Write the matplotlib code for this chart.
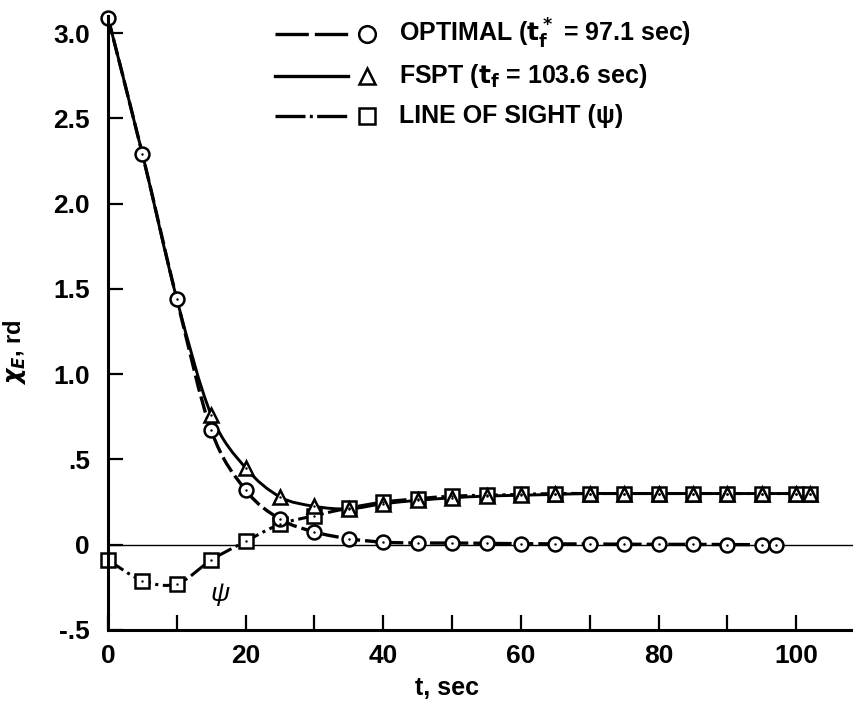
import numpy as np
import matplotlib
matplotlib.use("Agg")
import matplotlib.pyplot as plt
from matplotlib.path import Path
from matplotlib.patches import PathPatch

plt.rcParams['font.family'] = ['Liberation Sans', 'DejaVu Sans']
plt.rcParams['font.weight'] = 'bold'

# ---- data ----
t_opt = [0, 5, 10, 15, 20, 25, 30, 35, 40, 45, 50, 55, 60, 65, 70, 75, 80, 85, 90, 95, 97.1]
x_opt = [3.09, 2.29, 1.44, 0.67, 0.32, 0.15, 0.075, 0.035, 0.015, 0.01, 0.01, 0.008, 0.006,
         0.005, 0.004, 0.003, 0.002, 0.002, 0.001, 0.0, 0.0]

t_fspt = [0, 5, 10, 15, 20, 25, 30, 35, 40, 45, 50, 55, 60, 65, 70, 75, 80, 85, 90, 95, 100, 102]
x_fspt = [3.09, 2.29, 1.44, 0.76, 0.45, 0.28, 0.225, 0.21, 0.24, 0.26, 0.275, 0.285, 0.29,
          0.295, 0.30, 0.30, 0.30, 0.30, 0.30, 0.30, 0.30, 0.30]

t_los = [0, 5, 10, 15, 20, 25, 30, 35, 40, 45, 50, 55, 60, 65, 70, 75, 80, 85, 90, 95, 100, 102]
x_los = [-0.09, -0.21, -0.23, -0.09, 0.02, 0.12, 0.17, 0.215, 0.25, 0.27, 0.285, 0.29, 0.295,
         0.30, 0.30, 0.30, 0.30, 0.30, 0.30, 0.30, 0.30, 0.30]

legend_labels = [r'OPTIMAL ($\mathbf{t_f^*}$ = 97.1 sec)',
                 r'FSPT ($\mathbf{t_f}$ = 103.6 sec)',
                 'LINE OF SIGHT (ψ)']


def smooth(x, y):
    # Catmull-Rom style bezier through the points
    p = np.column_stack([x, y]).astype(float)
    verts = [p[0]]
    codes = [Path.MOVETO]
    for i in range(len(p) - 1):
        p0 = p[i - 1] if i > 0 else p[i]
        p3 = p[i + 2] if i + 2 < len(p) else p[i + 1]
        verts += [p[i] + (p[i + 1] - p0) / 6, p[i + 1] - (p3 - p[i]) / 6, p[i + 1]]
        codes += [Path.CURVE4] * 3
    return Path(verts, codes)


dash_opt = (0, (5, 1.5))
dash_los = (0, (6, 1.5, 1, 1.5))
mk = dict(markersize=10, markerfacecolor='white', markeredgecolor='black',
          markeredgewidth=1.8, linestyle='none', clip_on=False)

fig = plt.figure(figsize=(8.54, 7.02), dpi=100)
ax = fig.add_axes([0.1265, 0.1026, 0.8735, 0.8746])

ax.axhline(0, color='black', lw=1)

ax.add_patch(PathPatch(smooth(t_los, x_los), fill=False, lw=2.2, ls=dash_los, ec='black'))
ax.add_patch(PathPatch(smooth(t_opt, x_opt), fill=False, lw=2.4, ls=dash_opt, ec='black'))
ax.add_patch(PathPatch(smooth(t_fspt, x_fspt), fill=False, lw=2.1, ec='black'))

ax.plot(t_los, x_los, marker='s', **mk)
ax.plot(t_fspt[3:], x_fspt[3:], marker='^', **mk)
ax.plot(t_opt, x_opt, marker='o', **mk)
for data in ((t_los, x_los), (t_fspt[3:], x_fspt[3:]), (t_opt, x_opt)):
    ax.plot(*data, linestyle='none', marker='.', markersize=1.5, color='black', clip_on=False)

ax.text(16.3, -0.29, 'ψ', fontsize=19, ha='center', va='center',
        fontweight='normal', fontstyle='italic')

# legend drawn by hand: line sample, then marker, then text
leg_y = [0.9707, 0.9023, 0.8371]
styles = [(0, (10, 1.8)), '-', (0, (9, 1.3, 0.9, 1.3))]
marks = ['o', '^', 's']
for yy, ls, m, lab in zip(leg_y, styles, marks, legend_labels):
    ax.plot([0.224, 0.322], [yy, yy], transform=ax.transAxes, color='black', lw=2.4, ls=ls,
            clip_on=False)
    ax.plot([0.347], [yy], transform=ax.transAxes, marker=m, markersize=12,
            markerfacecolor='white', markeredgecolor='black', markeredgewidth=1.8, clip_on=False)
    ax.text(0.39, yy, lab, transform=ax.transAxes, fontsize=18, fontweight='bold',
            va='center', ha='left')

ax.set_xlim(0, 108.4)
ax.set_ylim(-0.5, 3.1)
ax.spines['top'].set_visible(False)
ax.spines['right'].set_visible(False)
ax.spines['left'].set_linewidth(2.2)
ax.spines['bottom'].set_linewidth(2.2)

ax.set_xticks([0, 20, 40, 60, 80, 100])
ax.set_xticks([10, 30, 50, 70, 90], minor=True)
ax.set_yticks([-0.5, 0, 0.5, 1.0, 1.5, 2.0, 2.5, 3.0])
ax.set_yticklabels(['-.5', '0', '.5', '1.0', '1.5', '2.0', '2.5', '3.0'])
ax.tick_params(which='both', direction='in', length=11, width=1.6, labelsize=19)
ax.tick_params(axis='x', pad=10)
ax.tick_params(axis='y', pad=13)
for lbl in ax.get_xticklabels() + ax.get_yticklabels():
    lbl.set_fontweight('bold')

ax.set_xlabel('t, sec', fontsize=18, fontweight='bold')
ax.xaxis.label.set_va('center')
ax.xaxis.set_label_coords(0.454, -0.094)
ax.set_ylabel(r'$\chi_E$, rd', fontsize=17, fontweight='bold')
ax.yaxis.set_label_coords(-0.107, 0.453)

fig.savefig('out.png', dpi=100)
